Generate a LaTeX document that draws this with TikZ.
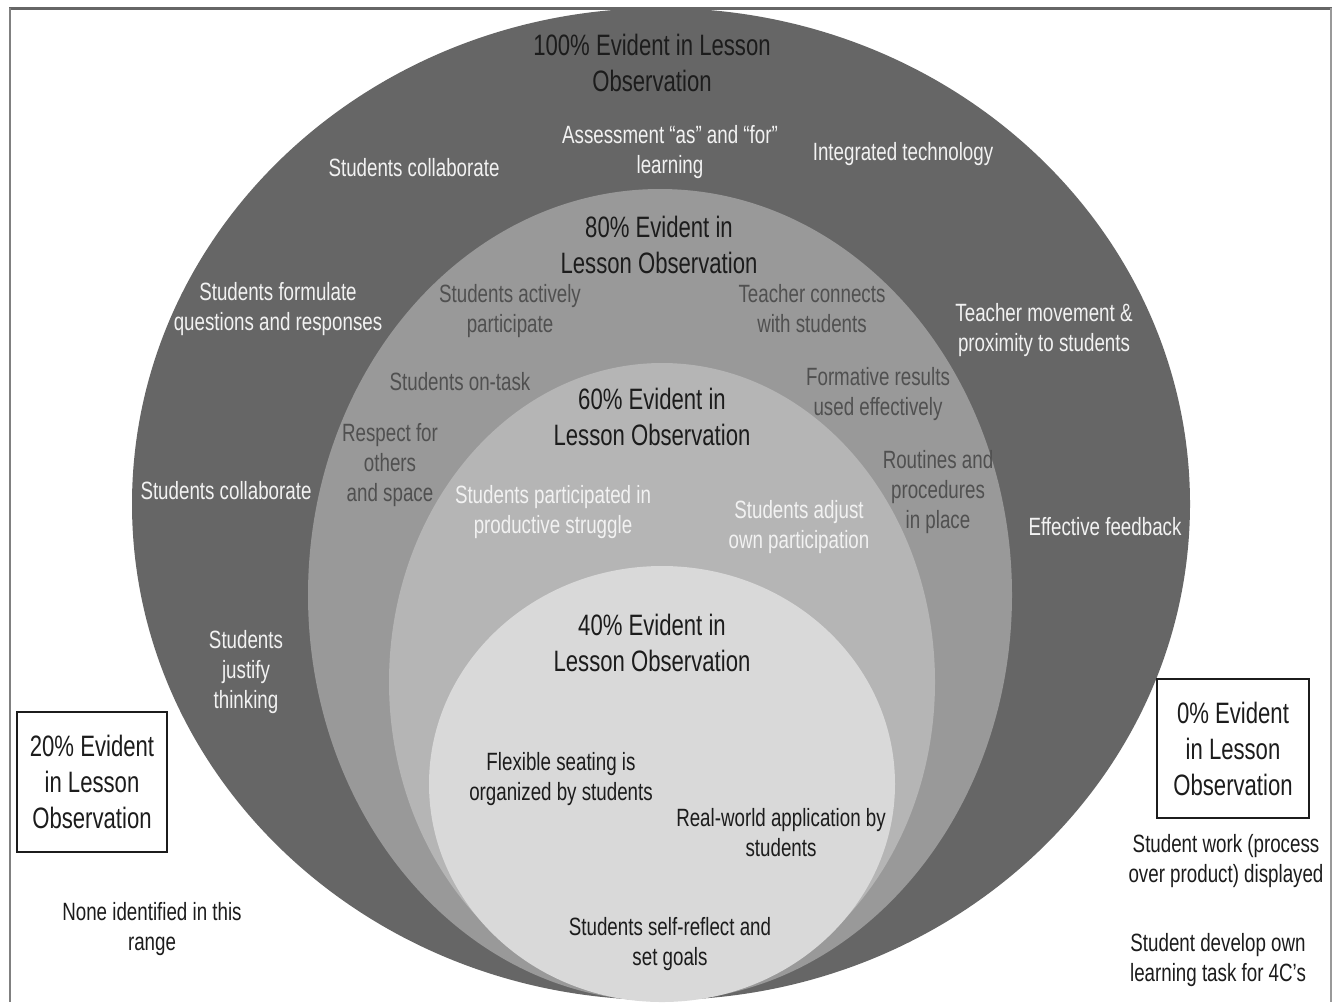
\documentclass[tikz,border=0pt]{standalone}
\usepackage{fontspec}
\setmainfont{Liberation Sans}[FakeStretch=0.75]
\definecolor{ring1}{HTML}{666666}
\definecolor{ring2}{HTML}{999999}
\definecolor{ring3}{HTML}{B5B5B5}
\definecolor{ring4}{HTML}{D9D9D9}
\definecolor{txtw}{HTML}{F2F2F2}
\definecolor{txtg}{HTML}{505050}
\definecolor{txtb}{HTML}{1C1C1C}
\tikzset{
  lbl/.style={inner sep=0pt, align=center, yshift=-2pt, font=\fontsize{25}{30}\selectfont},
  wt/.style={lbl, text=txtw},
  gt/.style={lbl, text=txtg},
  bt/.style={lbl, text=txtb},
  ttl/.style={inner sep=0pt, align=center, text=txtb, font=\fontsize{29.5}{36}\selectfont},
  boxlbl/.style={ttl, draw=txtb, line width=1.6pt},
}
\begin{document}
\begin{tikzpicture}[x=1pt,y=-1pt]
\useasboundingbox (0,0) rectangle (1332,1002);
\fill[white] (0,0) rectangle (1332,1002);
\begin{scope}
\clip (0,0) rectangle (1332,1002);
\fill[ring1] (661,504) ellipse [x radius=529pt, y radius=496pt];
\fill[ring2] (660,595) ellipse [x radius=352pt, y radius=406pt];
\fill[ring3] (662,682) ellipse [x radius=273pt, y radius=319pt];
\fill[ring4] (662,784) ellipse [x radius=233pt, y radius=218pt];
\end{scope}
% frame
\draw[ring1, line width=3pt] (9,8.5) -- (1332,8.5);
\draw[gray, line width=2pt] (10,8) -- (10,1002);
\draw[ring2, line width=1.5pt] (1331,8) -- (1331,1002);

% 100% ring
\node[ttl] (t100) at (652,63) {100\% Evident in Lesson\\Observation};
\node[wt] (a1) at (414,166) {Students collaborate};
\node[wt] (a2) at (670,150) {Assessment “as” and “for”\\learning};
\node[wt] (a3) at (903,152) {Integrated technology};
\node[wt] (a4) at (278,307) {Students formulate\\questions and responses};
\node[wt] (a5) at (1044,328) {Teacher movement \&\\proximity to students};
\node[wt] (a6) at (226,489) {Students collaborate};
\node[wt] (a7) at (1105,525) {Effective feedback};
\node[wt] (a8) at (246,670) {Students\\justify\\thinking};

% 80% ring
\node[ttl] (t80) at (659,245) {80\% Evident in\\Lesson Observation};
\node[gt] (b1) at (510,309) {Students actively\\participate};
\node[gt] (b2) at (812,307) {Teacher connects\\with students};
\node[gt] (b3) at (460,380) {Students on-task};
\node[gt] (b4) at (878,392) {Formative results\\used effectively};
\node[gt] (b5) at (390,463) {Respect for\\others\\and space};
\node[gt] (b6) at (938,490) {Routines and\\procedures\\in place};

% 60% ring
\node[ttl] (t60) at (652,417) {60\% Evident in\\Lesson Observation};
\node[wt] (c1) at (553,510) {Students participated in\\productive struggle};
\node[wt] (c2) at (799,525) {Students adjust\\own participation};

% 40% ring
\node[ttl] (t40) at (652,643) {40\% Evident in\\Lesson Observation};
\node[bt] (d1) at (561,777) {Flexible seating is\\organized by students};
\node[bt] (d2) at (781,831) {Real-world application by\\students};
\node[bt] (d3) at (670,942) {Students self-reflect and\\set goals};

% 20% box
\node[boxlbl, minimum width=150pt, minimum height=140pt] (t20) at (92,782) {20\% Evident\\in Lesson\\Observation};
\node[bt] (e1) at (152,927) {None identified in this\\range};

% 0% box
\node[boxlbl, minimum width=152pt, minimum height=139pt] (t0) at (1233,748.5) {0\% Evident\\in Lesson\\Observation};
\node[bt] (f1) at (1226,859) {Student work (process\\over product) displayed};
\node[bt] (f2) at (1218,958) {Student develop own\\learning task for 4C’s};
\end{tikzpicture}
\end{document}
